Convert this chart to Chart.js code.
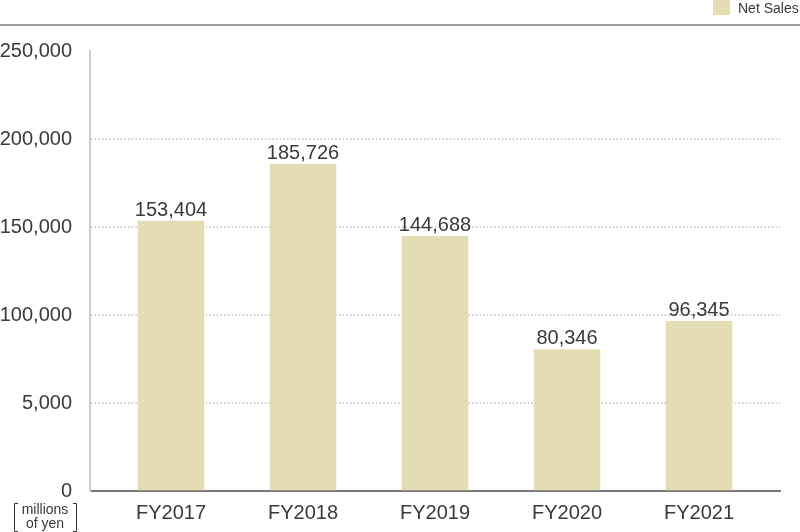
<!DOCTYPE html>
<html><head><meta charset="utf-8">
<script src="https://cdn.jsdelivr.net/npm/chart.js@4"></script>
<style>html,body{margin:0;padding:0;background:#fff}#wrap{width:800px;height:532px;position:relative}</style>
</head><body><div id="wrap"><canvas id="c" width="800" height="532"></canvas></div>
<script>
const categories = ["FY2017","FY2018","FY2019","FY2020","FY2021"];
const netSales = [153404, 185726, 144688, 80346, 96345];
const yTickValues = [0, 50000, 100000, 150000, 200000, 250000];
const yTickLabels = ["0", "5,000", "100,000", "150,000", "200,000", "250,000"];
const seriesName = "Net Sales";
const unitLines = ["millions", "of yen"];

const FONT = "'Liberation Sans', Arial, sans-serif";
const BAR = "#e4ddb4";
const TEXT = "#3a3a3a";

const overlay = {
  id: 'overlay',
  afterDraw(chart) {
    const ctx = chart.ctx;
    ctx.save();
    // top rule
    ctx.fillStyle = '#9a9a9a';
    ctx.fillRect(0, 24, 800, 2);
    // legend
    ctx.fillStyle = BAR;
    ctx.fillRect(713, 0, 17, 15);
    ctx.fillStyle = TEXT;
    ctx.font = "14px " + FONT;
    ctx.textBaseline = 'middle';
    ctx.textAlign = 'left';
    ctx.fillText(seriesName, 738, 9);
    // data labels
    const meta = chart.getDatasetMeta(0);
    ctx.font = "20px " + FONT;
    ctx.textAlign = 'center';
    ctx.textBaseline = 'bottom';
    ctx.fillStyle = TEXT;
    meta.data.forEach((el, i) => {
      ctx.fillText(netSales[i].toLocaleString('en-US'), el.x, el.y - 1);
    });
    // unit label with brackets
    ctx.font = "14px " + FONT;
    ctx.textBaseline = 'middle';
    ctx.fillText(unitLines[0], 45, 510);
    ctx.fillText(unitLines[1], 45, 524);
    ctx.strokeStyle = '#333';
    ctx.lineWidth = 1;
    ctx.beginPath();
    ctx.moveTo(18, 503.5); ctx.lineTo(14.5, 503.5); ctx.lineTo(14.5, 531.5); ctx.lineTo(18, 531.5);
    ctx.moveTo(73, 503.5); ctx.lineTo(76.5, 503.5); ctx.lineTo(76.5, 531.5); ctx.lineTo(73, 531.5);
    ctx.stroke();
    ctx.restore();
  }
};

new Chart(document.getElementById('c'), {
  type: 'bar',
  data: {
    datasets: [{
      label: seriesName,
      data: netSales.map((v, i) => ({x: i, y: v})),
      backgroundColor: BAR,
      barThickness: 66
    }]
  },
  options: {
    responsive: false,
    animation: false,
    devicePixelRatio: 1,
    layout: { padding: { top: 51, right: 20, left: 0, bottom: 0 } },
    plugins: { legend: { display: false }, tooltip: { enabled: false } },
    scales: {
      x: {
        type: 'linear',
        offset: false,
        min: -0.6136,
        max: 4.6136,
        afterBuildTicks: (s) => { s.ticks = categories.map((_, i) => ({ value: i })); },
        afterFit: (s) => { s.height = 41; },
        grid: { display: false, drawTicks: false },
        border: { display: true, color: '#777', width: 2 },
        ticks: {
          autoSkip: false,
          maxRotation: 0,
          padding: 10,
          color: TEXT,
          font: { family: FONT, size: 20 },
          callback: (v) => categories[v] ?? ''
        }
      },
      y: {
        min: 0,
        max: 250000,
        afterBuildTicks: (s) => { s.ticks = yTickValues.map(v => ({ value: v })); },
        afterFit: (s) => { s.width = 90; },
        grid: {
          drawTicks: false,
          color: (c) => (c.tick && (c.tick.value === 0 || c.tick.value === 250000)) ? 'rgba(0,0,0,0)' : '#cdcdcd',
          lineWidth: 2
        },
        border: { display: true, color: '#cccccc', width: 2, dash: [1.5, 2.2] },
        ticks: {
          padding: 18,
          color: TEXT,
          font: { family: FONT, size: 20 },
          callback: (v) => { const i = yTickValues.indexOf(v); return i >= 0 ? yTickLabels[i] : ''; }
        }
      }
    }
  },
  plugins: [overlay]
});
</script>
</body></html>
